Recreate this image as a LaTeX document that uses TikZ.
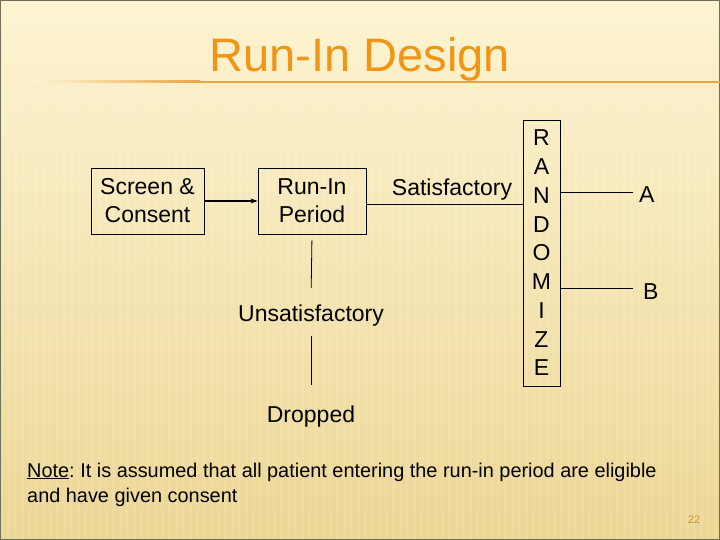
\documentclass[tikz,border=0pt]{standalone}
\usepackage{fontspec}
\setmainfont{Liberation Sans}
\usetikzlibrary{arrows.meta}
\frenchspacing
\definecolor{bgtop}{RGB}{253,244,210}
\definecolor{bgbot}{RGB}{236,214,148}
\definecolor{titleorange}{RGB}{240,150,20}
\definecolor{ruleorange}{RGB}{232,165,70}
\definecolor{pagenum}{RGB}{200,150,60}
\definecolor{frame}{RGB}{110,110,90}
\begin{document}
\begin{tikzpicture}[x=1pt,y=-1pt,
  box/.style={draw, line width=0.8pt, align=center, inner sep=0pt},
  body/.style={font=\fontsize{23}{28}\selectfont},
  line/.style={line width=0.8pt}]
\useasboundingbox (0,0) rectangle (720,540);
% background
\shade[top color=bgtop, bottom color=bgbot] (0,0) rectangle (720,540);
\foreach \x in {0,7,...,720} \fill[white,opacity=0.10] (\x,90) rectangle (\x+3,540);
\draw[frame, line width=1.2pt] (0.6,0.6) rectangle (719.4,539.4);
% title
\node[text=titleorange, font=\fontsize{47}{50}\selectfont] (title) at (360,59) {Run-In Design};
\shade[left color=bgtop, right color=ruleorange] (35,81) rectangle (200,83);
\fill[ruleorange] (200,81) rectangle (720,83);
% boxes
\node[box, body, minimum width=113, minimum height=66] (sc) at (147.5,201) {Screen \&\\Consent};
\node[box, body, minimum width=108, minimum height=66] (ri) at (312,201) {Run-In\\Period};
\node[box, font=\fontsize{23}{28.75}\selectfont, minimum width=37, minimum height=266] (rand) at (541.5,253)
  {R\\A\\N\\D\\O\\M\\I\\Z\\E};
% labels
\node[body] (sat) at (452,190) {Satisfactory};
\node[body] (unsat) at (311,316) {Unsatisfactory};
\node[body] (drop) at (311,417) {Dropped};
\node[body, anchor=west, inner sep=0pt] (A) at (639,195) {A};
\node[body, anchor=west, inner sep=0pt] (B) at (643,292) {B};
% connectors
\draw[line width=1.2pt, -{Stealth[length=7pt,width=5pt]}] (sc.east) -- (ri.west);
\coordinate (s1) at ([yshift=-3pt]ri.east);
\draw[line] (s1) -- (s1 -| rand.west);
\coordinate (a1) at ([yshift=3pt]rand.east |- A.west);
\draw[line] (a1) -- ++(73,0);
\coordinate (b1) at ([yshift=4pt]rand.east |- B.west);
\draw[line] (b1) -- ++(73,0);
\draw[line, shorten <=6pt, shorten >=14pt] (ri.south) -- (unsat.north);
\draw[line, shorten <=6pt, shorten >=18pt] (unsat.south) -- (drop.north);
% note
\node[anchor=base west, inner sep=0pt, font=\fontsize{19.9}{25}\selectfont] (note1) at (27,477)
  {\underline{Note}: It is assumed that all patient entering the run-in period are eligible};
\node[anchor=base west, inner sep=0pt, font=\fontsize{19.9}{25}\selectfont] (note2) at (27,502)
  {and have given consent};
\node[text=pagenum, font=\fontsize{11}{12}\selectfont] (pg) at (694,520) {22};
\end{tikzpicture}
\end{document}
